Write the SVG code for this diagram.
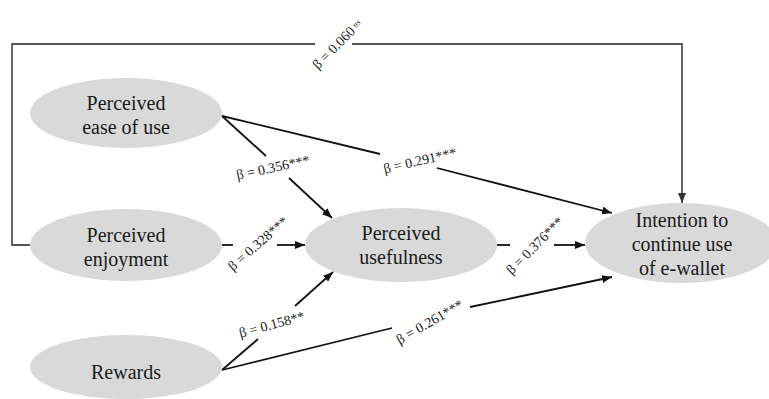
<svg xmlns="http://www.w3.org/2000/svg" width="769" height="399" viewBox="0 0 769 399">
<style>
.node ellipse{fill:#d9d9d9;stroke:none}
.node text{font-size:20px;fill:#1a1a1a;text-anchor:middle}
.edge{fill:none;stroke:#111;stroke-width:1.8}
.loop{fill:none;stroke:#555;stroke-width:1.8}
.lbl{font-size:14px;fill:#222;text-anchor:middle}
</style>
<defs>
<marker id="ah" markerUnits="userSpaceOnUse" markerWidth="10" markerHeight="8" refX="10" refY="4" orient="auto">
<path d="M0,0 L10,4 L0,8 Z" fill="#111"/>
</marker>
<marker id="ahg" markerUnits="userSpaceOnUse" markerWidth="10" markerHeight="8" refX="10" refY="4" orient="auto">
<path d="M0,0 L10,4 L0,8 Z" fill="#333"/>
</marker>
</defs>
<rect width="769" height="399" fill="#fff"/>
<g font-family="'Liberation Serif', 'Times New Roman', Tinos, 'DejaVu Serif', serif">
<g id="connectors">
<path class="loop" d="M30,245 H12 V44 H315"/>
<path class="loop" d="M352,44 H682 V203" marker-end="url(#ahg)"/>
<path class="edge" d="M222,116 L380,154"/>
<path class="edge" d="M437,168 L612,213" marker-end="url(#ah)"/>
<path class="edge" d="M222,116 L266,156"/>
<path class="edge" d="M289,178 L332,218" marker-end="url(#ah)"/>
<path class="edge" d="M222,245 H233"/>
<path class="edge" d="M277,245 H305" marker-end="url(#ah)"/>
<path class="edge" d="M497,245 H510"/>
<path class="edge" d="M554,245 H585" marker-end="url(#ah)"/>
<path class="edge" d="M222,370 L258,339"/>
<path class="edge" d="M295,306 L333,272" marker-end="url(#ah)"/>
<path class="edge" d="M222,370 L392,328"/>
<path class="edge" d="M470,307 L612,277" marker-end="url(#ah)"/>
<text class="lbl" transform="translate(318,70) rotate(-45)" text-anchor="start" style="text-anchor:start">β = 0.060<tspan font-size="8" dx="3" dy="-3">ns</tspan></text>
<text class="lbl" transform="translate(274,172) rotate(-12)">β = 0.356***</text>
<text class="lbl" transform="translate(421,165) rotate(-13)">β = 0.291***</text>
<text class="lbl" transform="translate(261,247) rotate(-41)">β = 0.328***</text>
<text class="lbl" transform="translate(538,249) rotate(-45)">β = 0.376***</text>
<text class="lbl" transform="translate(273,329) rotate(-15)">β = 0.158**</text>
<text class="lbl" transform="translate(432,326) rotate(-30)">β = 0.261***</text>
</g>
<g id="peou" class="node">
<ellipse cx="126" cy="113" rx="96" ry="35"/>
<text x="126" y="110">Perceived</text>
<text x="126" y="134">ease of use</text>
</g>
<g id="pe" class="node">
<ellipse cx="126" cy="245" rx="96" ry="36"/>
<text x="126" y="242">Perceived</text>
<text x="126" y="266">enjoyment</text>
</g>
<g id="rw" class="node">
<ellipse cx="126" cy="367" rx="96" ry="32"/>
<text x="126" y="379">Rewards</text>
</g>
<g id="pu" class="node">
<ellipse cx="401" cy="245" rx="96" ry="37"/>
<text x="401" y="240">Perceived</text>
<text x="401" y="264">usefulness</text>
</g>
<g id="ic" class="node">
<ellipse cx="681" cy="243" rx="96" ry="40"/>
<text x="682" y="227">Intention to</text>
<text x="682" y="251">continue use</text>
<text x="682" y="275">of e-wallet</text>
</g>
</g>
</svg>
